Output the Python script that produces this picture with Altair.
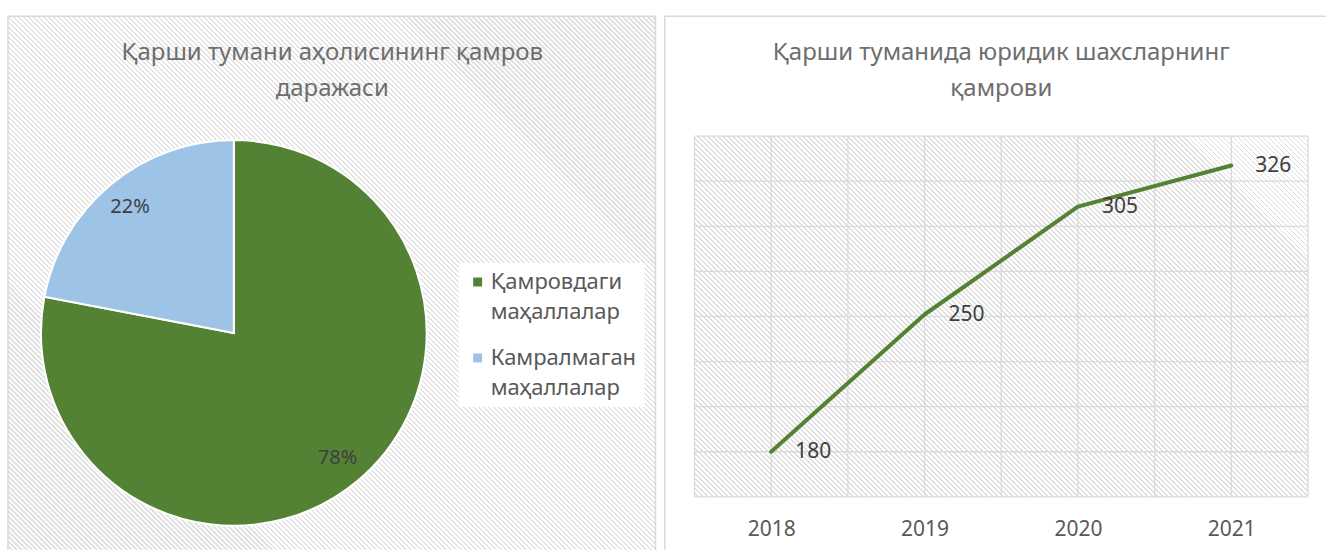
import altair as alt
import pandas as pd

# ---------------- data ----------------
PIE_CATEGORIES = ["Қамровдаги маҳаллалар", "Камралмаган маҳаллалар"]
PIE_VALUES = [78, 22]
PIE_LABELS = ["78%", "22%"]
PIE_COLORS = ["#548235", "#9DC3E6"]
LEFT_TITLE = ["Қарши тумани аҳолисининг қамров", "даражаси"]

YEARS = [2018, 2019, 2020, 2021]
ENTITIES = [180, 250, 305, 326]
ENTITY_LABELS = ["180", "250", "305", "326"]
RIGHT_TITLE = ["Қарши туманида юридик шахсларнинг", "қамрови"]
X_GRID = [2017.5, 2018, 2018.5, 2019, 2019.5, 2020, 2020.5, 2021, 2021.5]
Y_GRID = [157, 180, 203, 226, 249, 272, 295, 318, 341]

FONT = "Noto Sans"
GRID_COLOR = "#dadada"
FRAME_COLOR = "#d9d9d9"
LINE_GREEN = "#548235"


def hatch(w, h, period_px, duty, line_color, bg="#ffffff"):
    """45-degree diagonal hatch ('\\' lines) as a hard-stop linear gradient
    for a w x h box (gradient vector compensated for the box aspect)."""
    k = (w + h) * w / (w * w + h * h)
    step = period_px / float(w + h)
    stops = []
    i = 0
    while i * step < 1:
        a = i * step
        b = min(a + step * (1 - duty), 1)
        c = min(a + step, 1)
        stops += [
            alt.GradientStop(color=bg, offset=a),
            alt.GradientStop(color=bg, offset=b),
            alt.GradientStop(color=line_color, offset=b),
            alt.GradientStop(color=line_color, offset=c),
        ]
        i += 1
    return alt.LinearGradient(
        gradient="linear", stops=stops, x1=0, y1=1, x2=k, y2=1 - k * h / w
    )


ONE = pd.DataFrame({"k": [0]})

TOP = -120          # panel top relative to view top
BOT = 414           # panel bottom (kept inside the page)


def build(tall_labels):
    # ---------------- left panel (pie) ----------------
    WL, HL = 648, 361
    pie_df = pd.DataFrame({
        "cat": PIE_CATEGORIES,
        "val": PIE_VALUES,
        "lab": PIE_LABELS,
        "idx": list(range(len(PIE_VALUES))),
    })
    CX, CY, R = 226, 197, 193

    left_hatch = alt.Chart(ONE).mark_rect(
        fill=hatch(WL, BOT - TOP, 5, 0.5, "#e3e3e3"), strokeWidth=0
    ).encode(x=alt.value(0), x2=alt.value(WL), y=alt.value(TOP), y2=alt.value(BOT))

    legend = alt.Legend(
        title=None,
        orient="none",
        legendX=451,
        legendY=127,
        symbolType="square",
        symbolSize=80,
        symbolStrokeWidth=0,
        labelFont=FONT,
        labelFontSize=22,
        labelColor="#595959",
        labelLimit=0,
        labelExpr="split(datum.label, ' ')",
        labelOffset=2,
        rowPadding=24 if tall_labels else 28,
        fillColor="white",
        padding=8,
    )

    arcs = alt.Chart(pie_df).mark_arc(outerRadius=R, stroke="white", strokeWidth=2).encode(
        theta=alt.Theta("val:Q", stack=True),
        color=alt.Color(
            "cat:N",
            scale=alt.Scale(domain=PIE_CATEGORIES, range=PIE_COLORS),
            legend=legend,
        ),
        order=alt.Order("idx:Q"),
        x=alt.value(CX),
        y=alt.value(CY),
    )

    pie_text = alt.Chart(pie_df).mark_text(
        radius=163, font=FONT, fontSize=20, color="#404040"
    ).encode(
        theta=alt.Theta("val:Q", stack=True),
        order=alt.Order("idx:Q"),
        text="lab:N",
        x=alt.value(CX),
        y=alt.value(CY),
    )

    left_title = alt.Chart(ONE).mark_text(
        text=LEFT_TITLE, font=FONT, fontSize=24, color="#6e6e6e",
        align="center", baseline="top", lineHeight=36,
    ).encode(x=alt.value(324.5), y=alt.value(-95))

    frame_l = [
        alt.Chart(ONE).mark_rule(color=FRAME_COLOR, strokeWidth=1.5).encode(
            x=alt.value(0), x2=alt.value(WL), y=alt.value(TOP)),
        alt.Chart(ONE).mark_rule(color=FRAME_COLOR, strokeWidth=1.5).encode(
            x=alt.value(0), y=alt.value(TOP), y2=alt.value(BOT)),
        alt.Chart(ONE).mark_rule(color=FRAME_COLOR, strokeWidth=1.5).encode(
            x=alt.value(WL), y=alt.value(TOP), y2=alt.value(BOT)),
    ]

    left = alt.layer(left_hatch, arcs, pie_text, left_title, *frame_l).properties(
        width=WL, height=HL
    )

    # ---------------- right panel (line) ----------------
    WR, HR = 614, 361
    line_df = pd.DataFrame({"year": YEARS, "val": ENTITIES, "lab": ENTITY_LABELS})
    xg_df = pd.DataFrame({"year": X_GRID})
    yg_df = pd.DataFrame({"val": Y_GRID})

    XS = alt.Scale(domain=[X_GRID[0], X_GRID[-1]], nice=False, zero=False)
    YS = alt.Scale(domain=[Y_GRID[0], Y_GRID[-1]], nice=False, zero=False)
    XAX = alt.Axis(
        values=YEARS, format="d", title=None, grid=False, domain=False,
        ticks=False, labelFont=FONT, labelFontSize=21, labelColor="#595959",
        labelPadding=22,
    )

    right_hatch = alt.Chart(ONE).mark_rect(
        fill=hatch(WR, HR, 5, 0.35, "#dedede"), strokeWidth=0
    ).encode(x=alt.value(0), x2=alt.value(WR), y=alt.value(0), y2=alt.value(HR))

    vgrid = alt.Chart(xg_df).mark_rule(color=GRID_COLOR, strokeWidth=1.3).encode(
        x=alt.X("year:Q", scale=XS, axis=XAX)
    )
    hgrid = alt.Chart(yg_df).mark_rule(color=GRID_COLOR, strokeWidth=1.3).encode(
        y=alt.Y("val:Q", scale=YS, axis=None)
    )

    line = alt.Chart(line_df).mark_line(
        color=LINE_GREEN, strokeWidth=4, strokeCap="round", strokeJoin="round"
    ).encode(
        x=alt.X("year:Q", scale=XS, axis=XAX),
        y=alt.Y("val:Q", scale=YS, axis=None),
    )

    line_text = alt.Chart(line_df).mark_text(
        align="left", baseline="middle", dx=24, font=FONT, fontSize=21, color="#404040"
    ).encode(
        x=alt.X("year:Q", scale=XS, axis=XAX),
        y=alt.Y("val:Q", scale=YS, axis=None),
        text="lab:N",
    )

    right_title = alt.Chart(ONE).mark_text(
        text=RIGHT_TITLE, font=FONT, fontSize=24, color="#6e6e6e",
        align="center", baseline="top", lineHeight=36,
    ).encode(x=alt.value(WR / 2), y=alt.value(-95))

    frame_r = [
        alt.Chart(ONE).mark_rule(color=FRAME_COLOR, strokeWidth=1.5).encode(
            x=alt.value(-29.7), x2=alt.value(632), y=alt.value(TOP)),
        alt.Chart(ONE).mark_rule(color=FRAME_COLOR, strokeWidth=1.5).encode(
            x=alt.value(-29.7), y=alt.value(TOP), y2=alt.value(BOT)),
    ]

    right = alt.layer(right_hatch, vgrid, hgrid, line, line_text, right_title, *frame_r).properties(
        width=WR, height=HR
    )

    combo = alt.hconcat(left, right, spacing=7).properties(
        padding={"left": 7, "top": 15, "right": 0, "bottom": 0},
        background="white",
    )
    cfg = dict(view=alt.ViewConfig(stroke=None), text=alt.MarkConfig(font=FONT))
    if tall_labels:
        cfg["style"] = {"guide-label": {"lineHeight": 30}}
    return combo.configure(**cfg)


chart = None
for tall in (True, False):
    try:
        candidate = build(tall)
        candidate.to_dict()
        chart = candidate
        break
    except Exception:
        continue

chart.save("out.html", embed_options={"renderer": "svg", "actions": False})
